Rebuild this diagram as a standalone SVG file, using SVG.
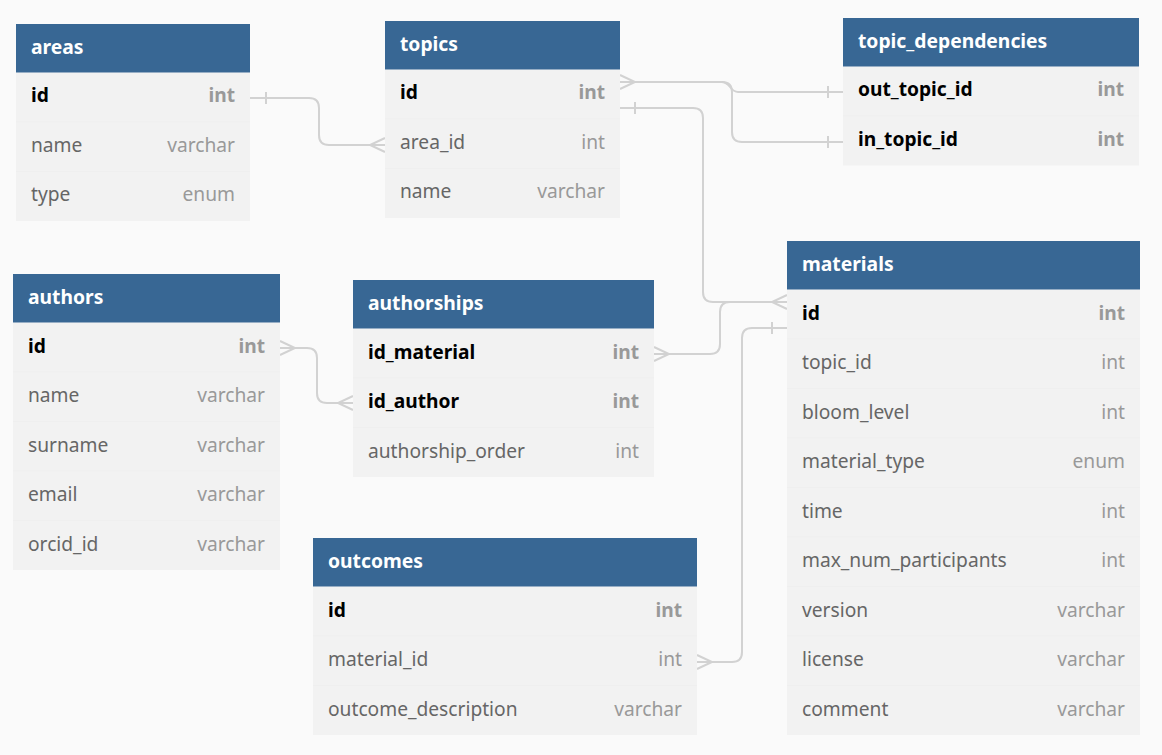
<svg xmlns="http://www.w3.org/2000/svg" width="1162" height="755" viewBox="0 0 1162 755">
<style>
.bg{fill:#fafafa}
.hd{fill:#386794}
.bd{fill:#f2f2f2}
.sep{stroke:#efefef;stroke-width:1}
.ht{font-family:"Noto Sans","Open Sans",sans-serif;font-size:19.3px;font-weight:bold;fill:#ffffff}
.fn{font-family:"Noto Sans","Open Sans",sans-serif;font-size:19.2px;fill:#666666}
.ft{font-family:"Noto Sans","Open Sans",sans-serif;font-size:19.2px;fill:#999999;text-anchor:end}
.k{font-weight:bold;fill:#000000}
.kt{font-weight:bold;fill:#999999}
.c{fill:none;stroke:#d2d2d2;stroke-width:2}
</style>
<rect class="bg" x="0" y="0" width="1162" height="755"/>
<g id="connectors">
<path class="c" d="M250,98 H309 Q319,98 319,108 V135 Q319,145 329,145 H385"/>
<path class="c" d="M266,92 V104 M385,138 L370,145 L385,152"/>
<path class="c" d="M620,82 H722 C730,82 730,92 738,92 H843"/>
<path class="c" d="M620,82 H722 Q732,82 732,92 V132 Q732,142 742,142 H843"/>
<path class="c" d="M620,75 L635,82 L620,89 M828,86 V98 M828,136 V148"/>
<path class="c" d="M620,108 H693 Q703,108 703,118 V292 Q703,302 713,302 H787"/>
<path class="c" d="M635,102 V114 M787,295 L772,302 L787,309"/>
<path class="c" d="M654,354 H710 Q720,354 720,344 V312 Q720,302 730,302 H787"/>
<path class="c" d="M654,347 L669,354 L654,361"/>
<path class="c" d="M787,328 H752 Q742,328 742,338 V652 Q742,662 732,662 H697"/>
<path class="c" d="M772,322 V334 M697,655 L712,662 L697,669"/>
<path class="c" d="M280,348 H307 Q317,348 317,358 V393 Q317,403 327,403 H353"/>
<path class="c" d="M280,341 L295,348 L280,355 M353,396 L338,403 L353,410"/>
</g>
<g id="areas">
<rect class="bd" x="16" y="72.5" width="234" height="148.5"/>
<rect class="hd" x="16" y="24" width="234" height="48.5"/>
<line class="sep" x1="16" y1="122" x2="250" y2="122"/><line class="sep" x1="16" y1="171.5" x2="250" y2="171.5"/>
<text class="ht" x="31" y="54">areas</text>
<text class="fn k" x="31" y="102">id</text><text class="ft kt" x="235" y="102">int</text>
<text class="fn" x="31" y="152">name</text><text class="ft" x="235" y="152">varchar</text>
<text class="fn" x="31" y="201">type</text><text class="ft" x="235" y="201">enum</text>
</g>
<g id="topics">
<rect class="bd" x="385" y="69.5" width="235" height="148.5"/>
<rect class="hd" x="385" y="21" width="235" height="48.5"/>
<line class="sep" x1="385" y1="119" x2="620" y2="119"/><line class="sep" x1="385" y1="168.5" x2="620" y2="168.5"/>
<text class="ht" x="400" y="51">topics</text>
<text class="fn k" x="400" y="99">id</text><text class="ft kt" x="605" y="99">int</text>
<text class="fn" x="400" y="149">area_id</text><text class="ft" x="605" y="149">int</text>
<text class="fn" x="400" y="198">name</text><text class="ft" x="605" y="198">varchar</text>
</g>
<g id="topic_dependencies">
<rect class="bd" x="843" y="66.5" width="296" height="99"/>
<rect class="hd" x="843" y="18" width="296" height="48.5"/>
<line class="sep" x1="843" y1="116" x2="1139" y2="116"/>
<text class="ht" x="858" y="48">topic_dependencies</text>
<text class="fn k" x="858" y="96">out_topic_id</text><text class="ft kt" x="1124" y="96">int</text>
<text class="fn k" x="858" y="146">in_topic_id</text><text class="ft kt" x="1124" y="146">int</text>
</g>
<g id="authors">
<rect class="bd" x="13" y="322.5" width="267" height="247.5"/>
<rect class="hd" x="13" y="274" width="267" height="48.5"/>
<line class="sep" x1="13" y1="372" x2="280" y2="372"/><line class="sep" x1="13" y1="421.5" x2="280" y2="421.5"/><line class="sep" x1="13" y1="471" x2="280" y2="471"/><line class="sep" x1="13" y1="520.5" x2="280" y2="520.5"/>
<text class="ht" x="28" y="304">authors</text>
<text class="fn k" x="28" y="353">id</text><text class="ft kt" x="265" y="353">int</text>
<text class="fn" x="28" y="402">name</text><text class="ft" x="265" y="402">varchar</text>
<text class="fn" x="28" y="452">surname</text><text class="ft" x="265" y="452">varchar</text>
<text class="fn" x="28" y="501">email</text><text class="ft" x="265" y="501">varchar</text>
<text class="fn" x="28" y="551">orcid_id</text><text class="ft" x="265" y="551">varchar</text>
</g>
<g id="authorships">
<rect class="bd" x="353" y="328.5" width="301" height="148.5"/>
<rect class="hd" x="353" y="280" width="301" height="48.5"/>
<line class="sep" x1="353" y1="378" x2="654" y2="378"/><line class="sep" x1="353" y1="427.5" x2="654" y2="427.5"/>
<text class="ht" x="368" y="310">authorships</text>
<text class="fn k" x="368" y="359">id_material</text><text class="ft kt" x="639" y="359">int</text>
<text class="fn k" x="368" y="408">id_author</text><text class="ft kt" x="639" y="408">int</text>
<text class="fn" x="368" y="458">authorship_order</text><text class="ft" x="639" y="458">int</text>
</g>
<g id="materials">
<rect class="bd" x="787" y="289.5" width="353" height="445.5"/>
<rect class="hd" x="787" y="241" width="353" height="48.5"/>
<line class="sep" x1="787" y1="339" x2="1140" y2="339"/><line class="sep" x1="787" y1="388.5" x2="1140" y2="388.5"/><line class="sep" x1="787" y1="438" x2="1140" y2="438"/><line class="sep" x1="787" y1="487.5" x2="1140" y2="487.5"/><line class="sep" x1="787" y1="537" x2="1140" y2="537"/><line class="sep" x1="787" y1="586.5" x2="1140" y2="586.5"/><line class="sep" x1="787" y1="636" x2="1140" y2="636"/><line class="sep" x1="787" y1="685.5" x2="1140" y2="685.5"/>
<text class="ht" x="802" y="271">materials</text>
<text class="fn k" x="802" y="320">id</text><text class="ft kt" x="1125" y="320">int</text>
<text class="fn" x="802" y="369">topic_id</text><text class="ft" x="1125" y="369">int</text>
<text class="fn" x="802" y="419">bloom_level</text><text class="ft" x="1125" y="419">int</text>
<text class="fn" x="802" y="468">material_type</text><text class="ft" x="1125" y="468">enum</text>
<text class="fn" x="802" y="518">time</text><text class="ft" x="1125" y="518">int</text>
<text class="fn" x="802" y="567">max_num_participants</text><text class="ft" x="1125" y="567">int</text>
<text class="fn" x="802" y="617">version</text><text class="ft" x="1125" y="617">varchar</text>
<text class="fn" x="802" y="666">license</text><text class="ft" x="1125" y="666">varchar</text>
<text class="fn" x="802" y="716">comment</text><text class="ft" x="1125" y="716">varchar</text>
</g>
<g id="outcomes">
<rect class="bd" x="313" y="586.5" width="384" height="148.5"/>
<rect class="hd" x="313" y="538" width="384" height="48.5"/>
<line class="sep" x1="313" y1="636" x2="697" y2="636"/><line class="sep" x1="313" y1="685.5" x2="697" y2="685.5"/>
<text class="ht" x="328" y="568">outcomes</text>
<text class="fn k" x="328" y="617">id</text><text class="ft kt" x="682" y="617">int</text>
<text class="fn" x="328" y="666">material_id</text><text class="ft" x="682" y="666">int</text>
<text class="fn" x="328" y="716">outcome_description</text><text class="ft" x="682" y="716">varchar</text>
</g>
</svg>
